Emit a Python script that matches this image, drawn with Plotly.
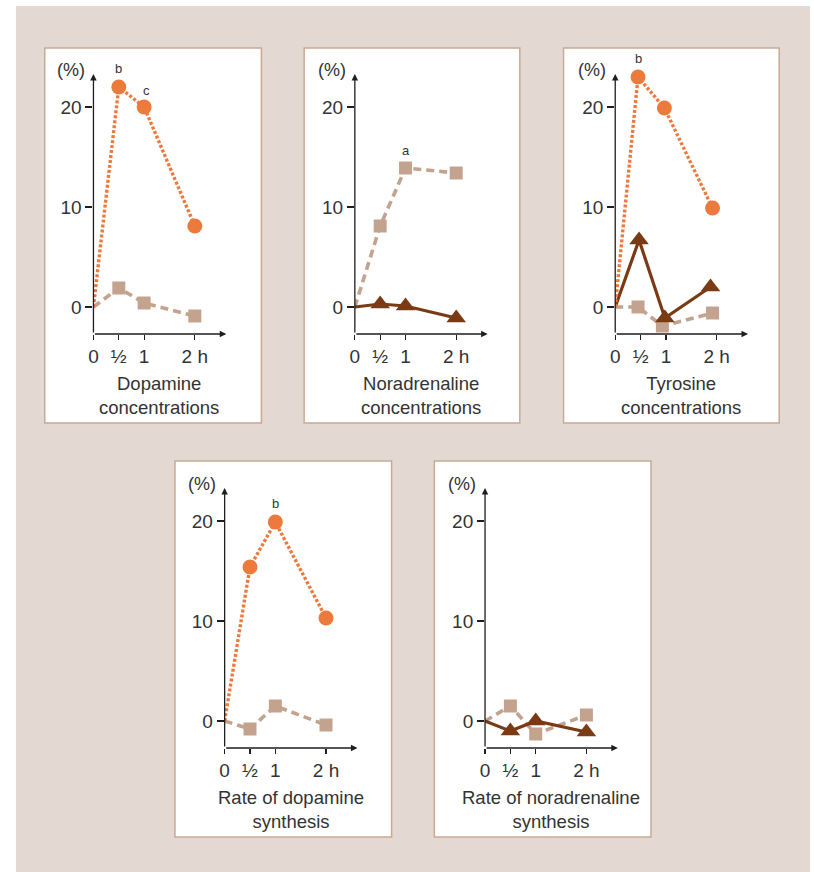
import plotly.graph_objects as go

# ---------------- data ----------------
T = [0, 0.5, 1, 2]
tick_vals_x = [0, 0.5, 1, 2]
tick_text_x = ["0", "½", "1", "2 h"]
tick_vals_y = [0, 10, 20]

titles = ["Dopamine<br>concentrations", "Noradrenaline<br>concentrations",
          "Tyrosine<br>concentrations", "Rate of dopamine<br>synthesis",
          "Rate of noradrenaline<br>synthesis"]

dopa_conc_circle = [0, 22.0, 20.0, 8.1]
dopa_conc_square = [0, 1.9, 0.4, -0.9]

nor_conc_square = [0, 8.1, 13.9, 13.4]
nor_conc_tri = [0, 0.3, 0.1, -1.1]

tyr_x_circle = [0, 0.45, 0.97, 1.92]
tyr_circle = [0, 23.0, 19.9, 9.9]
tyr_x_tri = [0, 0.47, 0.98, 1.88]
tyr_tri = [0, 6.7, -1.1, 2.0]
tyr_x_square = [0, 0.45, 0.93, 1.92]
tyr_square = [0, 0.0, -1.9, -0.6]

rate_dopa_circle = [0, 15.4, 19.9, 10.3]
rate_dopa_square = [0, -0.8, 1.5, -0.4]

rate_nor_square = [0, 1.5, -1.3, 0.6]
rate_nor_tri = [0, -1.0, 0.0, -1.1]

# letters: (panel, x, y, text)
sig_labels = [(0, 0.5, 23.8, "b"), (0, 1.05, 21.6, "c"), (1, 1.0, 15.6, "a"),
              (2, 0.45, 24.8, "b"), (3, 1.0, 21.7, "b")]

# ---------------- style ----------------
W, H = 814, 872
ORANGE = "#ec7a3c"
TAN = "#c4a38e"
BROWN = "#7a3b14"
TXT = "#333333"
AX = "#1e1e1e"
FONT = "Liberation Sans"

PXH = 51.0     # px per hour
PXU = 10.0     # px per percent
XR = [0, 2.75]
YR = [-2.7, 25.5]

# axis origin positions (px) and panel boxes (px)
origins = [(89, 307), (352, 307), (614, 307), (221, 721), (483, 721)]
boxes = [(40, 48, 258, 423), (301, 48, 518, 423), (562, 48, 779, 423),
         (171, 461, 389, 837), (432, 461, 650, 837)]


def px(x):
    return x / W


def py(y):
    return 1 - y / H


fig = go.Figure()
shapes = [dict(type="rect", xref="paper", yref="paper", x0=px(11), x1=px(810),
               y0=py(6), y1=py(872), fillcolor="#e4d9d2", line=dict(width=0),
               layer="below")]
for (x0, y0, x1, y1) in boxes:
    shapes.append(dict(type="rect", xref="paper", yref="paper", x0=px(x0), x1=px(x1),
                       y0=py(y0), y1=py(y1), fillcolor="white",
                       line=dict(color="#c9a994", width=1.5), layer="below"))

annotations = []
layout_axes = {}
for i, (ox, oy) in enumerate(origins):
    n = "" if i == 0 else str(i + 1)
    xd = [px(ox), px(ox + (XR[1] - XR[0]) * PXH)]
    ybot = oy - YR[0] * PXU
    ytop = oy - YR[1] * PXU
    yd = [py(ybot), py(ytop)]
    layout_axes["xaxis" + n] = dict(
        domain=xd, range=XR, anchor="y" + n, showgrid=False, zeroline=False,
        showline=False, tickvals=tick_vals_x, ticktext=tick_text_x,
        ticks="outside", ticklen=5, tickwidth=1.2, tickcolor=AX,
        tickfont=dict(family=FONT, size=19, color=TXT))
    layout_axes["yaxis" + n] = dict(
        domain=yd, range=YR, anchor="x" + n, showgrid=False, zeroline=False,
        showline=False, tickvals=tick_vals_y, ticks="outside", ticklen=7,
        tickwidth=1.2, tickcolor=AX,
        tickfont=dict(family=FONT, size=19, color=TXT))
    xr, yr = "x" + n, "y" + n
    # axis arrows
    annotations.append(dict(x=0, y=23.3, ax=0, ay=YR[0], xref=xr, yref=yr,
                            axref=xr, ayref=yr, text="", showarrow=True,
                            arrowhead=2, arrowsize=1, arrowwidth=1.3,
                            arrowcolor=AX))
    annotations.append(dict(x=2.62, y=YR[0], ax=0, ay=YR[0], xref=xr, yref=yr,
                            axref=xr, ayref=yr, text="", showarrow=True,
                            arrowhead=2, arrowsize=1, arrowwidth=1.3,
                            arrowcolor=AX))
    # (%) label
    annotations.append(dict(x=px(ox - 23), y=py(oy - 237), xref="paper",
                            yref="paper", text="(%)", showarrow=False,
                            xanchor="center", yanchor="middle",
                            font=dict(family=FONT, size=18, color=TXT)))
    # title
    annotations.append(dict(x=px(ox + 1.3 * PXH), y=py(oy + 88), xref="paper",
                            yref="paper", text=titles[i], showarrow=False,
                            xanchor="center", yanchor="middle",
                            font=dict(family=FONT, size=18.5, color=TXT)))

for (p, x, y, t) in sig_labels:
    n = "" if p == 0 else str(p + 1)
    annotations.append(dict(x=x, y=y, xref="x" + n, yref="y" + n, text=t,
                            showarrow=False, xanchor="center", yanchor="middle",
                            font=dict(family=FONT, size=13, color=TXT)))

STY = {
    "circle": (dict(color=ORANGE, width=3.4, dash="3px,2px"), "circle", ORANGE, 15),
    "square": (dict(color=TAN, width=3.6, dash="8px,5px"), "square", TAN, 13),
    "tri": (dict(color=BROWN, width=3.2), "triangle-up", BROWN, 17),
}


def add(xs, ys, kind, panel):
    n = "" if panel == 0 else str(panel + 1)
    line, sym, col, size = STY[kind]
    fig.add_trace(go.Scatter(x=xs, y=ys, mode="lines", line=line,
                             xaxis="x" + n, yaxis="y" + n, cliponaxis=False,
                             showlegend=False, hoverinfo="skip"))
    fig.add_trace(go.Scatter(x=xs[1:], y=ys[1:], mode="markers",
                             marker=dict(symbol=sym, color=col, size=size,
                                         opacity=1, line=dict(width=0)),
                             xaxis="x" + n, yaxis="y" + n, cliponaxis=False,
                             showlegend=False, hoverinfo="skip"))


add(T, dopa_conc_square, "square", 0)
add(T, dopa_conc_circle, "circle", 0)
add(T, nor_conc_square, "square", 1)
add(T, nor_conc_tri, "tri", 1)
add(tyr_x_square, tyr_square, "square", 2)
add(tyr_x_tri, tyr_tri, "tri", 2)
add(tyr_x_circle, tyr_circle, "circle", 2)
add(T, rate_dopa_square, "square", 3)
add(T, rate_dopa_circle, "circle", 3)
add(T, rate_nor_square, "square", 4)
add(T, rate_nor_tri, "tri", 4)

fig.update_layout(width=W, height=H, margin=dict(l=0, r=0, t=0, b=0),
                  paper_bgcolor="white", plot_bgcolor="rgba(0,0,0,0)",
                  shapes=shapes, annotations=annotations, showlegend=False,
                  font=dict(family=FONT, color=TXT), **layout_axes)

fig.write_html(
    "out.html",
    config={"displayModeBar": False, "staticPlot": True},
    post_script=(
        "document.documentElement.style.margin='0';"
        "document.documentElement.style.overflow='hidden';"
        "document.body.style.margin='0';"
        "document.body.style.padding='0';"
        "document.body.style.overflow='hidden';"
        "var d=document.getElementById('{plot_id}');"
        "d.style.position='absolute';d.style.left='0px';d.style.top='0px';"
    ),
)
